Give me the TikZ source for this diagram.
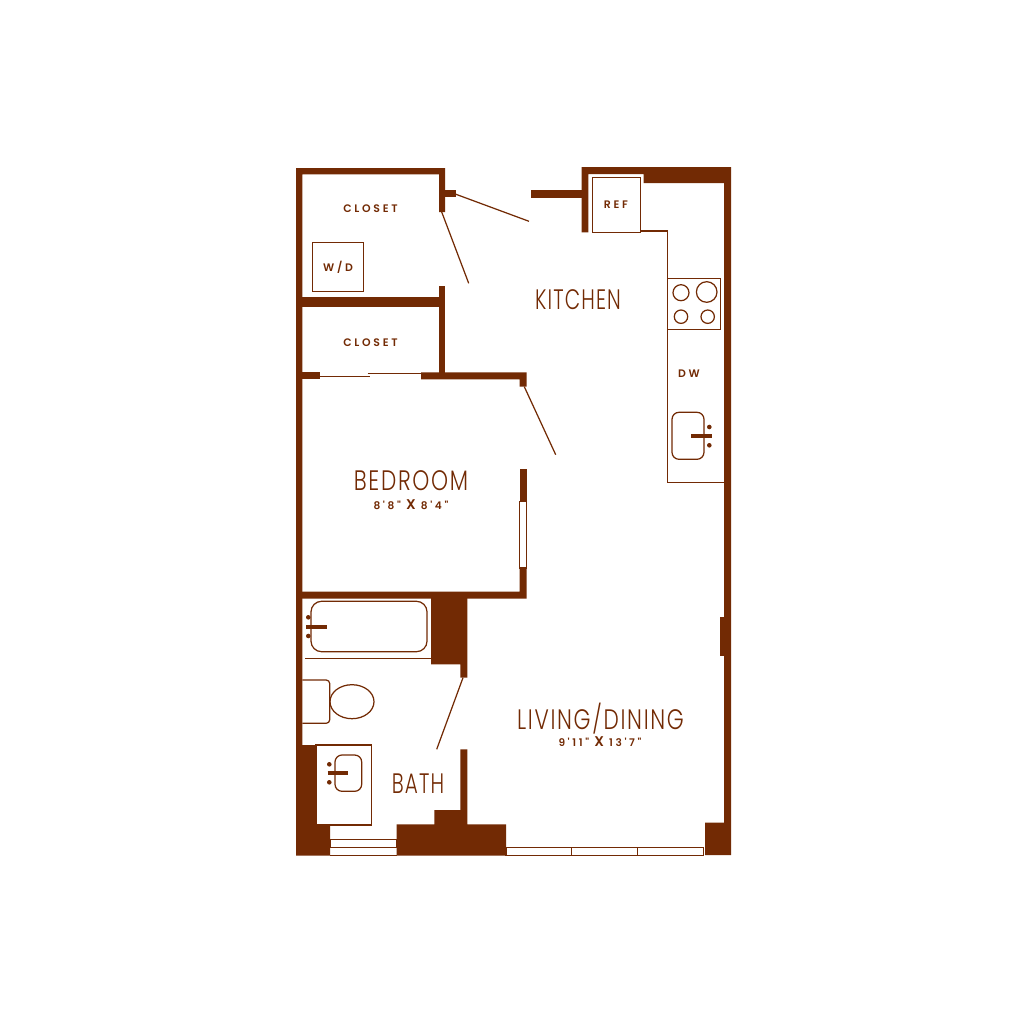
\documentclass[tikz,border=0pt]{standalone}
\usepackage{fontspec}
\setmainfont{Poppins}
\newfontfamily\roomfont[LetterSpace=6,FakeStretch=0.77]{Poppins Light}
\newfontfamily\narrowfont[LetterSpace=4,FakeStretch=0.71]{Poppins Light}
\newfontfamily\smallfont[LetterSpace=25]{Poppins SemiBold}
\definecolor{wallbrown}{RGB}{114,42,4}
\begin{document}
\begin{tikzpicture}[
        x=0.01cm,
        y=-0.01cm,
        wall/.style={
            fill=wallbrown,
            draw=none
        },
        fixture/.style={
            draw=wallbrown,
            line width=0.35pt
        },
        doorleaf/.style={
            draw=wallbrown,
            line width=0.35pt
        },
        faucet/.style={
            draw=wallbrown,
            line width=1.1pt
        },
        roomlabel/.style={
            text=wallbrown,
            font=\roomfont\fontsize{8}{9}\selectfont,
            inner sep=0pt
        },
        narrowlabel/.style={
            text=wallbrown,
            font=\narrowfont\fontsize{8}{9}\selectfont,
            inner sep=0pt
        },
        sizelabel/.style={
            text=wallbrown,
            font=\smallfont\fontsize{3}{4}\selectfont,
            inner sep=0pt
        },
        smalllabel/.style={
            text=wallbrown,
            font=\smallfont\fontsize{3.1}{4}\selectfont,
            inner sep=0pt
        }
    ]
    \useasboundingbox (0,0) rectangle (1024,1024);

    % Outer walls
    \fill[wall] (296,168) -- (445,168) -- (445,212) -- (439,212) -- (439,174.3) -- (302.3,174.3) -- (302.3,745) -- (316,745) -- (316,824) -- (330,824) -- (330,855.5) -- (296,855.5) -- cycle;
    \fill[wall] (581.5,167) -- (731,167) -- (731,855) -- (705,855) -- (705,822.7) -- (724,822.7) -- (724,183) -- (643.7,183) -- (643.7,174) -- (588.3,174) -- (588.3,232.3) -- (581.5,232.3) -- cycle;

    % Stubs at the entry
    \fill[wall] (445,189.7) rectangle (456,197);
    \fill[wall] (531.3,190) rectangle (582,197.7);
    \fill[wall] (720,617) rectangle (724,656);

    % Closet walls
    \fill[wall] (302,296.7) rectangle (439,307.3);
    \fill[wall] (439,286.3) rectangle (445.3,373);
    \fill[wall] (302,372.3) rectangle (319.7,379.3);
    \fill[wall] (421,372.3) -- (526.5,372.3) -- (526.5,386.7) -- (519.7,386.7) -- (519.7,379.3) -- (421,379.3) -- cycle;

    % Bedroom wall
    \fill[wall] (519.5,469.3) rectangle (526.5,501.7);
    \fill[wall] (302,591.7) -- (519.5,591.7) -- (519.5,568) -- (526.5,568) -- (526.5,598.7) -- (302,598.7) -- cycle;

    % Bath block
    \fill[wall] (431,598) -- (467.3,598) -- (467.3,677.7) -- (460.3,677.7) -- (460.3,664.3) -- (431,664.3) -- cycle;
    \fill[wall] (396.7,824.3) -- (434.3,824.3) -- (434.3,810) -- (460.3,810) -- (460.3,749.3) -- (467.3,749.3) -- (467.3,824.3) -- (506,824.3) -- (506,855.5) -- (396.7,855.5) -- cycle;

    % Windows
    \draw[fixture] (519.7,501.7) rectangle (526.3,568);
    \draw[fixture] (330,839.3) rectangle (396.7,847.8);
    \draw[fixture] (330,855.5) -- (396.7,855.5);
    \draw[fixture] (506,847.7) rectangle (571.7,855.7);
    \draw[fixture] (571.7,847.7) rectangle (637.7,855.7);
    \draw[fixture] (637.7,847.7) rectangle (703.7,855.7);

    % Doors
    \draw[doorleaf] (456,194.3) -- (529,221.3);
    \draw[doorleaf] (441.7,212) -- (468.7,283.3);
    \draw[doorleaf] (524.3,386.7) -- (555.7,454.7);
    \draw[doorleaf] (463,677.7) -- (436.7,749.3);
    \draw[doorleaf] (319.7,376.7) -- (370,376.7);
    \draw[doorleaf] (367.7,373.7) -- (421,373.7);

    % Closet and kitchen fixtures
    \draw[fixture] (312.3,242.3) rectangle (363.3,291.3);
    \draw[fixture] (592.3,177.3) rectangle (640.7,232.3);
    \draw[fixture] (640.7,231) -- (667.5,231) -- (667.5,482.7) -- (724,482.7);
    \draw[fixture] (667.5,278.7) rectangle (720.3,329.7);
    \draw[fixture] (681,292.7) circle (8);
    \draw[fixture] (706.7,292) circle (10.3);
    \draw[fixture] (681,316.7) circle (6.7);
    \draw[fixture] (707.7,316.7) circle (6.7);

    % Kitchen sink
    \draw[fixture, rounded corners=2pt] (672,412.3) rectangle (704,459.3);
    \draw[faucet] (691,436) -- (711.7,436);
    \fill[wall] (709.3,427) circle (2.3);
    \fill[wall] (709.3,445.3) circle (2.3);

    % Tub
    \draw[fixture, rounded corners=3pt] (311,601.3) rectangle (427,651.7);
    \draw[fixture] (305,658.7) -- (431,658.7);
    \draw[faucet] (306.3,626.7) -- (326.7,626.7);
    \fill[wall] (308.3,617.3) circle (2.3);
    \fill[wall] (308.3,636) circle (2.3);

    % Toilet
    \draw[fixture, rounded corners=1pt] (302.3,680) -- (329.7,680) -- (329.7,723.3) -- (302.3,723.3);
    \draw[fixture] (352,701.7) ellipse (22 and 17);

    % Vanity
    \draw[fixture] (316,745) rectangle (371.7,825);
    \draw[fixture, rounded corners=2pt] (335,755) rectangle (361.7,791.3);
    \draw[faucet] (327.7,773.3) -- (347.7,773.3);
    \fill[wall] (329.3,764.3) circle (2.3);
    \fill[wall] (329.3,782.3) circle (2.3);

    % Labels
    \node[narrowlabel] (kitchen) at (578,300) {KITCHEN};
    \node[roomlabel] (bedroom) at (411,480.5) {BEDROOM};
    \node[sizelabel] (bedroomsize) at (411,505) {8'8" {\fontsize{4}{4}\selectfont X} 8'4"};
    \node[roomlabel] (living) at (600.5,718.5) {LIVING/DINING};
    \node[sizelabel] (livingsize) at (600,742) {9'11" {\fontsize{4}{4}\selectfont X} 13'7"};
    \node[narrowlabel] (bath) at (418,783.5) {BATH};
    \node[smalllabel] (closetone) at (370.5,208.5) {CLOSET};
    \node[smalllabel] (closettwo) at (370.5,342.5) {CLOSET};
    \node[smalllabel] (wd) at (338,267) {W/D};
    \node[smalllabel] (ref) at (616,204.5) {REF};
    \node[smalllabel] (dw) at (689,374) {DW};

\end{tikzpicture}
\end{document}
